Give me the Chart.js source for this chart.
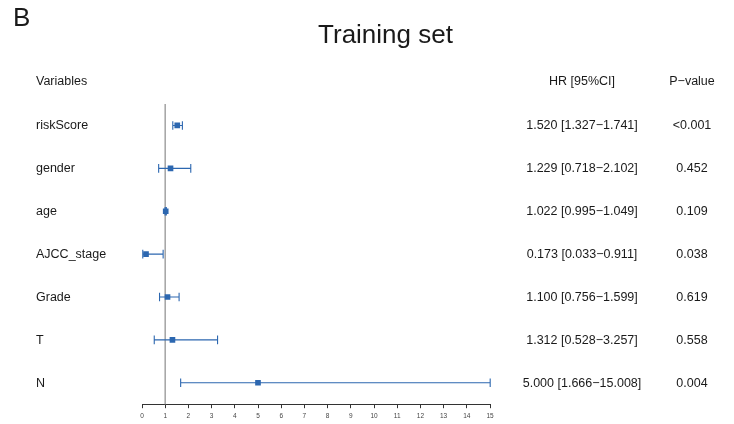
<!DOCTYPE html>
<html>
<head>
<meta charset="utf-8">
<script src="https://cdn.jsdelivr.net/npm/chart.js@4.4.1/dist/chart.umd.min.js"></script>
<style>
  html, body { margin: 0; padding: 0; background: #fff; }
  #wrap { width: 734px; height: 424px; position: relative; }
</style>
</head>
<body>
<div id="wrap"><canvas id="forest"></canvas></div>
<script>
const variables = ['riskScore', 'gender', 'age', 'AJCC_stage', 'Grade', 'T', 'N'];
const hr = [1.520, 1.229, 1.022, 0.173, 1.100, 1.312, 5.000];
const lower = [1.327, 0.718, 0.995, 0.033, 0.756, 0.528, 1.666];
const upper = [1.741, 2.102, 1.049, 0.911, 1.599, 3.257, 15.008];
const hrText = ['1.520 [1.327\u22121.741]', '1.229 [0.718\u22122.102]', '1.022 [0.995\u22121.049]',
    '0.173 [0.033\u22120.911]', '1.100 [0.756\u22121.599]', '1.312 [0.528\u22123.257]', '5.000 [1.666\u221215.008]'];
const pText = ['<0.001', '0.452', '0.109', '0.038', '0.619', '0.558', '0.004'];
const xTicks = [0, 1, 2, 3, 4, 5, 6, 7, 8, 9, 10, 11, 12, 13, 14, 15];

const blue = '#2c67b0';
const font = '"Liberation Sans", Arial, sans-serif';

// ошибки, референсная линия и текстовые столбцы
const forestPlugin = {
    id: 'forest',
    beforeDatasetsDraw(chart) {
        const ctx = chart.ctx;
        const x = chart.scales.x, y = chart.scales.y;
        const area = chart.chartArea;
        ctx.save();
        ctx.strokeStyle = '#a8a8a8';
        ctx.lineWidth = 1.6;
        ctx.beginPath();
        ctx.moveTo(x.getPixelForValue(1), area.top);
        ctx.lineTo(x.getPixelForValue(1), area.bottom);
        ctx.stroke();

        ctx.strokeStyle = blue;
        ctx.lineWidth = 1.1;
        hr.forEach((v, i) => {
            const py = y.getPixelForValue(i);
            const x0 = x.getPixelForValue(lower[i]);
            const x1 = x.getPixelForValue(upper[i]);
            ctx.beginPath();
            ctx.moveTo(x0, py); ctx.lineTo(x1, py);
            ctx.moveTo(x0, py - 4.3); ctx.lineTo(x0, py + 4.3);
            ctx.moveTo(x1, py - 4.3); ctx.lineTo(x1, py + 4.3);
            ctx.stroke();
        });
        ctx.restore();
    },
    afterDraw(chart) {
        const ctx = chart.ctx;
        const y = chart.scales.y;
        ctx.save();
        ctx.fillStyle = '#1a1a1a';

        ctx.textBaseline = 'alphabetic';
        ctx.font = '26px ' + font;
        ctx.textAlign = 'left';
        ctx.fillText('B', 13, 26);
        ctx.textAlign = 'center';
        ctx.fillText('Training set', 385.5, 43);

        ctx.textBaseline = 'middle';
        ctx.font = '12.5px ' + font;
        ctx.textAlign = 'left';
        ctx.fillText('Variables', 36, 82);
        ctx.textAlign = 'center';
        ctx.fillText('HR [95%CI]', 582, 82);
        ctx.fillText('P\u2212value', 692, 82);

        variables.forEach((name, i) => {
            const py = y.getPixelForValue(i) + 0.5;
            ctx.textAlign = 'left';
            ctx.fillText(name, 36, py);
            ctx.textAlign = 'center';
            ctx.fillText(hrText[i], 582, py);
            ctx.fillText(pText[i], 692, py);
        });
        ctx.restore();
    }
};

new Chart(document.getElementById('forest').getContext('2d'), {
    type: 'scatter',
    data: {
        datasets: [{
            data: hr.map((v, i) => ({ x: v, y: i })),
            pointStyle: 'rect',
            pointRadius: 4,
            backgroundColor: blue,
            borderColor: blue,
            borderWidth: 0
        }]
    },
    plugins: [forestPlugin],
    options: {
        responsive: true,
        maintainAspectRatio: false,
        animation: false,
        events: [],
        layout: { padding: { left: 142, right: 244, top: 104, bottom: 0 } },
        plugins: { legend: { display: false }, tooltip: { enabled: false } },
        scales: {
            x: {
                type: 'linear',
                min: 0,
                max: 15,
                afterBuildTicks: (axis) => { axis.ticks = xTicks.map(v => ({ value: v })); },
                grid: { drawOnChartArea: false, tickLength: 4, color: '#333' },
                border: { color: '#333', width: 1 },
                ticks: { font: { size: 6.5, family: font }, color: '#444', padding: 4, maxRotation: 0 }
            },
            y: {
                type: 'linear',
                reverse: true,
                min: -0.5,
                max: 6.5,
                display: false
            }
        }
    }
});
</script>
</body>
</html>
